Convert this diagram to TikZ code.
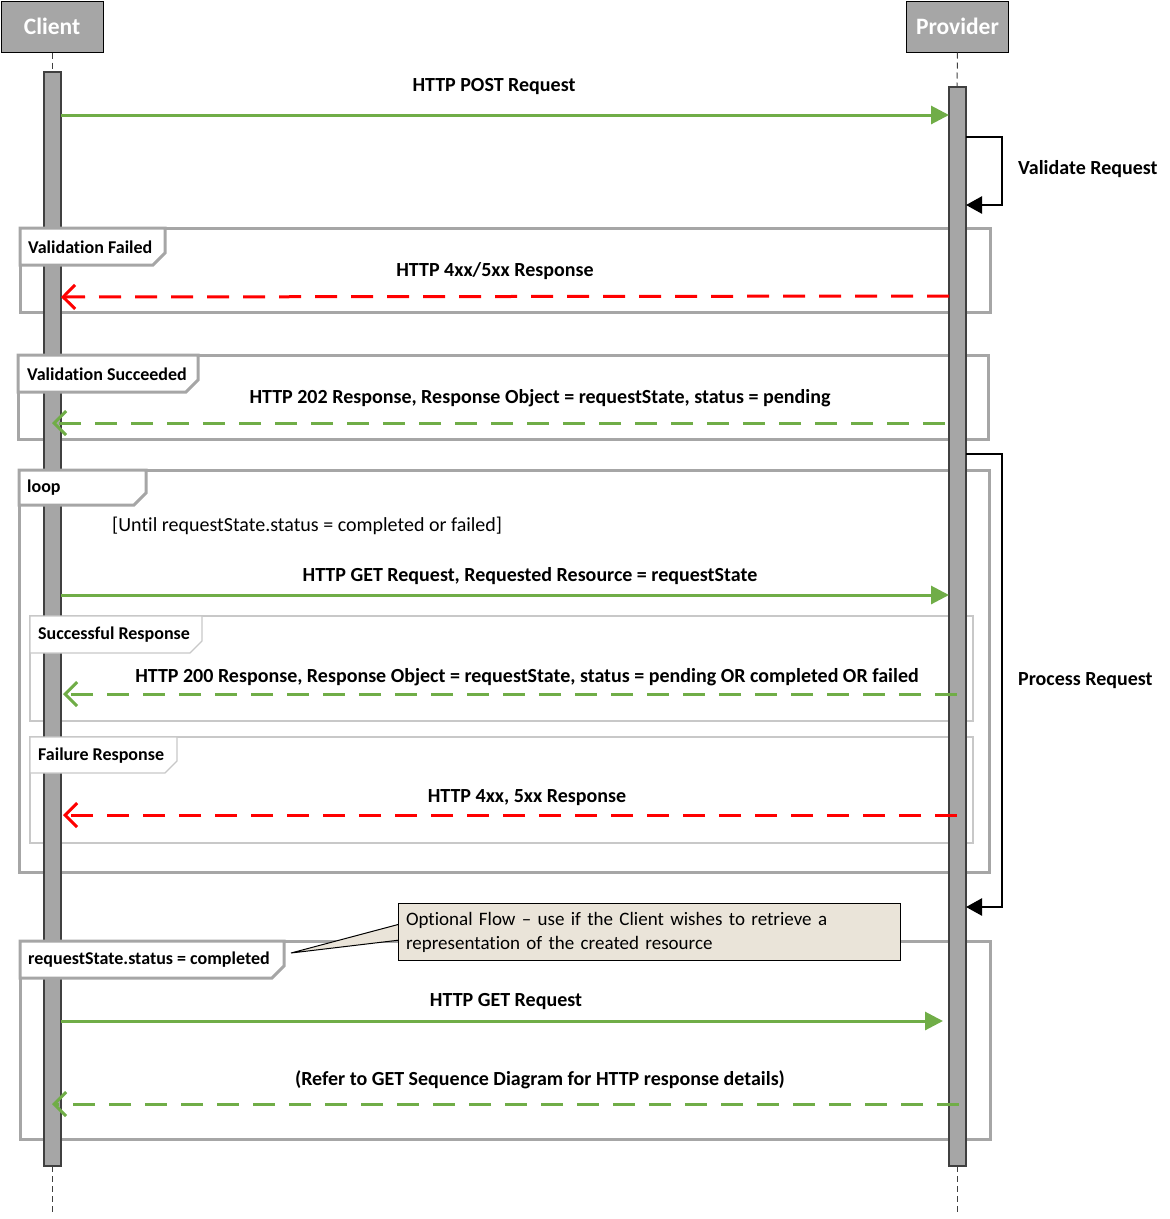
\documentclass[tikz,border=0pt]{standalone}
\usepackage{fontspec}
\setmainfont[Ligatures={TeX,NoCommon}]{Carlito}
\usetikzlibrary{arrows.meta}
\definecolor{frgray}{HTML}{A6A6A6}
\definecolor{thingray}{HTML}{C8C8C8}
\definecolor{agreen}{HTML}{70AD47}
\definecolor{ared}{HTML}{FF0000}
\definecolor{notebg}{HTML}{EAE4D9}
\definecolor{bardark}{HTML}{404040}
\begin{document}
\begin{tikzpicture}[x=1pt,y=-1pt,
  actor/.style={draw=black, fill=frgray, line width=1pt, text=white, font=\bfseries\fontsize{23.5}{27}\selectfont, inner sep=0pt, minimum width=102pt, minimum height=51pt},
  lifeline/.style={draw=bardark, dash pattern=on 6pt off 4pt, line width=1pt},
  actbar/.style={fill=frgray, draw=bardark, line width=1.2pt},
  bigframe/.style={draw=frgray, line width=3pt},
  smallframe/.style={draw=thingray, line width=1.2pt},
  tablabel/.style={font=\bfseries\fontsize{18}{21}\selectfont, anchor=west, inner sep=0pt},
  msglabel/.style={font=\bfseries\fontsize{20}{24}\selectfont, inner sep=0pt},
  plainlabel/.style={font=\fontsize{20}{24}\selectfont, inner sep=0pt},
  syncmsg/.style={draw=agreen, line width=3pt, -{Triangle[length=18pt,width=18pt]}},
  greenret/.style={draw=agreen, line width=3pt, dash pattern=on 22pt off 14pt, -{Straight Barb[length=12pt,width=24pt,line width=3pt]}},
  redret/.style={draw=ared, line width=3pt, dash pattern=on 22pt off 14pt, -{Straight Barb[length=12pt,width=24pt,line width=3pt]}},
  selfmsg/.style={draw=black, line width=2.5pt, -{Triangle[length=16pt,width=17pt]}},
  notebox/.style={draw=black, line width=1pt, fill=notebg, minimum width=502pt, minimum height=50pt, text width=486pt, inner sep=8pt, align=left, font=\fontsize{19}{24}\selectfont}
]
\useasboundingbox (0,0) rectangle (1170,1219);

% actors
\node[actor] (client) at (52,26.5) {Client};
\node[actor] (provider) at (957.5,26.5) {Provider};

% lifelines
\coordinate (cl1) at (52,72); \coordinate (cl2) at (52,1166); \coordinate (cl3) at (52,1214);
\coordinate (pl1) at (957,87); \coordinate (pl2) at (957,1166); \coordinate (pl3) at (957,1214);
\draw[lifeline] (client.south) -- (cl1);
\draw[lifeline] (cl2) -- (cl3);
\draw[lifeline] (provider.south) -- (pl1);
\draw[lifeline] (pl2) -- (pl3);

% frame outlines
\draw[bigframe] (20,228) rectangle (990,312);
\draw[bigframe] (18,355) rectangle (988,439);
\draw[bigframe] (19,470) rectangle (989,872);
\draw[smallframe] (30,616) rectangle (973,721);
\draw[smallframe] (30,737) rectangle (973,843);
\draw[bigframe] (20,941) rectangle (990,1139);

% activation bars
\draw[actbar] (44,72) rectangle (61,1166);
\draw[actbar] (949,87) rectangle (966,1166);

% tabs
\draw[bigframe, fill=white] (20,228) -- (165,228) -- (165,253) -- (153,265) -- (20,265) -- cycle;
\node[tablabel] (tabvf) at (28,247) {Validation Failed};
\draw[bigframe, fill=white] (18,355) -- (198,355) -- (198,380) -- (186,392) -- (18,392) -- cycle;
\node[tablabel] (tabvs) at (27,374) {Validation Succeeded};
\draw[bigframe, fill=white] (19,470) -- (146,470) -- (146,493) -- (134,505) -- (19,505) -- cycle;
\node[tablabel] (tabloop) at (27,488) {loop};
\draw[smallframe, fill=white] (30,616) -- (202,616) -- (202,641) -- (190,653) -- (30,653) -- cycle;
\node[tablabel] (tabsr) at (38,635) {Successful Response};
\draw[smallframe, fill=white] (30,737) -- (177,737) -- (177,761) -- (165,773) -- (30,773) -- cycle;
\node[tablabel] (tabfr) at (38,756) {Failure Response};
\draw[bigframe, fill=white] (20,941) -- (284,941) -- (284,966) -- (272,978) -- (20,978) -- cycle;
\node[tablabel] (tabrc) at (28,960) {requestState.status = completed};

% messages
\coordinate (m1a) at (61,115); \coordinate (m1b) at (949,115);
\draw[syncmsg] (m1a) -- (m1b);
\node[msglabel] (l1) at (494,87) {HTTP POST Request};

\coordinate (v1) at (966,137); \coordinate (v2) at (966,205);
\draw[selfmsg] (v1) -- (1002,137) -- (1002,205) -- (v2);
\node[msglabel, anchor=west] (lv) at (1018,169) {Validate Request};

\coordinate (m2a) at (949,296); \coordinate (m2b) at (61,297);
\draw[redret] (m2a) -- (m2b);
\node[msglabel] (l2) at (495,271) {HTTP 4xx/5xx Response};

\coordinate (m3a) at (945,423); \coordinate (m3b) at (52,423);
\draw[greenret] (m3a) -- (m3b);
\node[msglabel] (l3) at (540,398) {HTTP 202 Response, Response Object = requestState, status = pending};

\node[plainlabel, anchor=west] (guard) at (112,526) {[Until requestState.status = completed or failed]};

\coordinate (p1) at (966,454); \coordinate (p2) at (966,907);
\draw[selfmsg] (p1) -- (1002,454) -- (1002,907) -- (p2);
\node[msglabel, anchor=west] (lp) at (1018,681) {Process Request};

\coordinate (m4a) at (61,595); \coordinate (m4b) at (949,595);
\draw[syncmsg] (m4a) -- (m4b);
\node[msglabel] (l4) at (530,576) {HTTP GET Request, Requested Resource = requestState};

\coordinate (m5a) at (957,694); \coordinate (m5b) at (63,694);
\draw[greenret] (m5a) -- (m5b);
\node[msglabel] (l5) at (527,677) {HTTP 200 Response, Response Object = requestState, status = pending OR completed OR failed};

\coordinate (m6a) at (957,815); \coordinate (m6b) at (63,815);
\draw[redret] (m6a) -- (m6b);
\node[msglabel] (l6) at (527,798) {HTTP 4xx, 5xx Response};

% note
\coordinate (ptip) at (291,953);
\filldraw[fill=notebg, draw=black, line width=1pt] (400,924) -- (ptip) -- (400,940);
\node[notebox] (note) at (649,932) {Optional Flow – use if the Client wishes to retrieve a\\representation of the created resource};

\coordinate (m7a) at (61,1021); \coordinate (m7b) at (943,1021);
\draw[syncmsg] (m7a) -- (m7b);
\node[msglabel] (l7) at (506,1002) {HTTP GET Request};

\coordinate (m8a) at (959,1104); \coordinate (m8b) at (52,1104);
\draw[greenret] (m8a) -- (m8b);
\node[msglabel] (l8) at (540,1080) {(Refer to GET Sequence Diagram for HTTP response details)};
\end{tikzpicture}
\end{document}
